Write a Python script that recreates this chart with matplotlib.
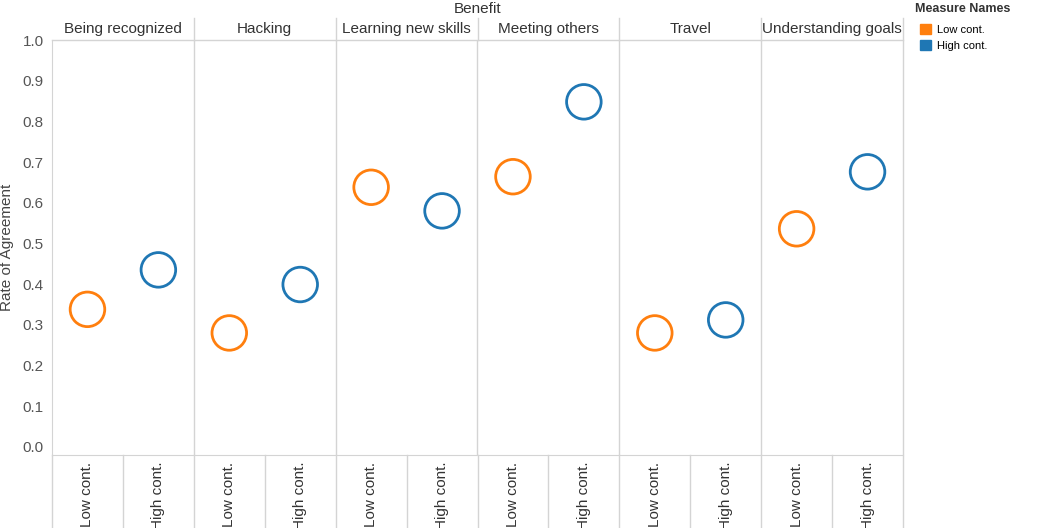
import matplotlib
matplotlib.use("Agg")
import matplotlib.pyplot as plt
from matplotlib.patches import Patch

plt.rcParams["font.family"] = ["Liberation Sans", "DejaVu Sans"]

benefits = ["Being recognized", "Hacking", "Learning new skills", "Meeting others",
            "Travel", "Understanding goals"]
measures = ["Low cont.", "High cont."]
low_vals = [0.338, 0.280, 0.638, 0.664, 0.280, 0.536]
high_vals = [0.435, 0.399, 0.580, 0.848, 0.312, 0.676]
colors = {"Low cont.": "#ff7f0e", "High cont.": "#1f77b4"}

W, H = 1054, 528
fig = plt.figure(figsize=(W / 100, H / 100), dpi=100)
ax = fig.add_axes([52 / W, (H - 455) / H, (903 - 52) / W, (455 - 40) / H])

n = len(benefits)
for i in range(n):
    ax.scatter(2 * i, low_vals[i], s=620, facecolors="none",
               edgecolors=colors["Low cont."], linewidths=2, zorder=3)
    ax.scatter(2 * i + 1, high_vals[i], s=620, facecolors="none",
               edgecolors=colors["High cont."], linewidths=2, zorder=3)

ax.set_xlim(-0.5, 2 * n - 0.5)
ax.set_ylim(-0.02, 1.0)
for i in range(1, n):
    ax.axvline(2 * i - 0.5, color="#d4d4d4", lw=1)
for s in ["top", "right"]:
    ax.spines[s].set_visible(False)
ax.spines["left"].set_color("#d4d4d4")
ax.spines["bottom"].set_color("#d4d4d4")

ax.set_yticks([i / 10 for i in range(11)])
ax.set_yticklabels([f"{i / 10:.1f}" for i in range(11)], fontsize=11, color="#555555")
ax.tick_params(axis="y", length=0, pad=6)
ax.set_ylabel("Rate of Agreement", fontsize=11, color="#444444", labelpad=6)

ax.set_xticks(range(2 * n))
ax.set_xticklabels(measures * n, rotation=90, fontsize=11, color="#333333")
ax.tick_params(axis="x", length=0, pad=5)

# header row
for i, b in enumerate(benefits):
    x = (2 * i + 0.5 + 0.5) / (2 * n)
    ax.text(x, 1.0 + 11 / 415, b, transform=ax.transAxes, ha="center", va="center",
            fontsize=11, color="#333333")
    if i > 0:
        ax.plot([i / n, i / n], [1.0, 1.0 + 22 / 415], transform=ax.transAxes,
                color="#d4d4d4", lw=1, clip_on=False)
ax.plot([0, 1], [1.0, 1.0], transform=ax.transAxes, color="#d4d4d4", lw=1, clip_on=False)
ax.text(0.5, 1.0 + 31 / 415, "Benefit", transform=ax.transAxes, ha="center",
        va="center", fontsize=11, color="#333333")
# x label separators
for i in range(1, 2 * n):
    ax.plot([i / (2 * n)] * 2, [0, -73 / 415], transform=ax.transAxes,
            color="#d4d4d4", lw=1, clip_on=False)
ax.plot([0, 0], [0, -73 / 415], transform=ax.transAxes, color="#d4d4d4", lw=1, clip_on=False)
ax.plot([1, 1], [-73 / 415, 1 + 22 / 415], transform=ax.transAxes, color="#d4d4d4",
        lw=1, clip_on=False)

fig.text(915 / W, 1 - 9 / H, "Measure Names", fontsize=9, fontweight="bold",
         color="#333333", va="center")
handles = [Patch(facecolor=colors[m], edgecolor=colors[m]) for m in measures]
fig.legend(handles, measures, loc="upper left", bbox_to_anchor=(910 / W, 1 - 14 / H),
           frameon=False, fontsize=8, handlelength=1.0, handleheight=1.0,
           handletextpad=0.5, labelspacing=0.5)

fig.savefig("out.png", dpi=100)
